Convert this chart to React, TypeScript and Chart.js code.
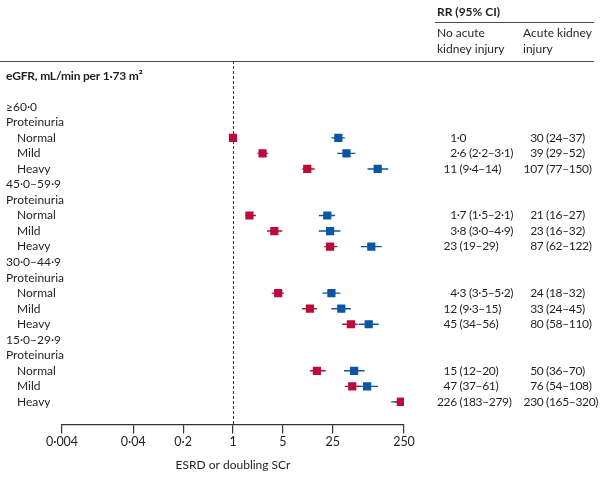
import { useEffect, useRef } from 'react';
import { Chart, registerables } from 'chart.js';

Chart.register(...registerables);

// ---- data ----
const groupLabels = ['≥60·0', '45·0–59·9', '30·0–44·9', '15·0–29·9'];
const levelLabels = ['Normal', 'Mild', 'Heavy'];
const subHeading = 'Proteinuria';
const axisHeading = 'eGFR, mL/min per 1·73 m²';

const noAkiRR = [1.0, 2.6, 11, 1.7, 3.8, 23, 4.3, 12, 45, 15, 47, 226];
const noAkiLo = [null, 2.2, 9.4, 1.5, 3.0, 19, 3.5, 9.3, 34, 12, 37, 183];
const noAkiHi = [null, 3.1, 14, 2.1, 4.9, 29, 5.2, 15, 56, 20, 61, 279];
const akiRR = [30, 39, 107, 21, 23, 87, 24, 33, 80, 50, 76, 230];
const akiLo = [24, 29, 77, 16, 16, 62, 18, 24, 58, 36, 54, 165];
const akiHi = [37, 52, 150, 27, 32, 122, 32, 45, 110, 70, 108, 320];

const noAkiText = ['1·0', '2·6 (2·2–3·1)', '11 (9·4–14)', '1·7 (1·5–2·1)', '3·8 (3·0–4·9)', '23 (19–29)', '4·3 (3·5–5·2)', '12 (9·3–15)', '45 (34–56)', '15 (12–20)', '47 (37–61)', '226 (183–279)'];
const akiText = ['30 (24–37)', '39 (29–52)', '107 (77–150)', '21 (16–27)', '23 (16–32)', '87 (62–122)', '24 (18–32)', '33 (24–45)', '80 (58–110)', '50 (36–70)', '76 (54–108)', '230 (165–320)'];

const tickValues = [0.004, 0.04, 0.2, 1, 5, 25, 250];
const tickLabels = ['0·004', '0·04', '0·2', '1', '5', '25', '250'];
const xTitle = 'ESRD or doubling SCr';

// ---- style ----
const RED = '#BC0A3D';
const BLUE = '#0B55A2';
const TEXT = '#231F20';
const FONT = 'Lato, "Open Sans", sans-serif';
const ROW_MIN = -2.95;
const ROW_MAX = 20.45;

const rowOf = (k: number) => Math.floor(k / 3) * 5 + 2 + (k % 3);

function whiskers(lo: (number | null)[], hi: (number | null)[]) {
  const out: any[] = [];
  lo.forEach((l, k) => {
    const h = hi[k];
    if (l == null || h == null) return;
    const r = rowOf(k);
    out.push({ x: l, y: r }, { x: h, y: r }, { x: null, y: null });
  });
  return out;
}

const points = (vals: number[]) => vals.map((v, k) => ({ x: v, y: rowOf(k) }));

const forestPlugin = {
  id: 'forestText',
  beforeDatasetsDraw(chart: any) {
    const { ctx, chartArea, scales } = chart;
    const px = Math.round(scales.x.getPixelForValue(1)) + 0.5;
    ctx.save();
    ctx.strokeStyle = '#3a3a3a';
    ctx.lineWidth = 1;
    ctx.setLineDash([3, 2]);
    ctx.beginPath();
    ctx.moveTo(px, chartArea.top);
    ctx.lineTo(px, chartArea.bottom);
    ctx.stroke();
    ctx.restore();
  },
  afterDraw(chart: any) {
    const { ctx, scales } = chart;
    const y = scales.y;
    ctx.save();
    // header rules
    ctx.strokeStyle = '#4a4a4a';
    ctx.lineWidth = 1.2;
    ctx.beginPath();
    ctx.moveTo(0, 61.5);
    ctx.lineTo(594, 61.5);
    ctx.moveTo(435, 22.5);
    ctx.lineTo(594, 22.5);
    ctx.stroke();

    ctx.fillStyle = TEXT;
    ctx.textBaseline = 'middle';
    ctx.textAlign = 'left';
    ctx.font = `bold 12px ${FONT}`;
    ctx.fillText('RR (95% CI)', 437, 12);
    ctx.font = `12px ${FONT}`;
    ctx.fillText('No acute', 437, 33);
    ctx.fillText('kidney injury', 437, 49);
    ctx.fillText('Acute kidney', 523, 33);
    ctx.fillText('injury', 523, 49);

    ctx.font = `bold 12px ${FONT}`;
    (ctx as any).letterSpacing = '-0.2px';
    ctx.fillText(axisHeading, 6, y.getPixelForValue(-1.95));
    (ctx as any).letterSpacing = '0px';

    ctx.font = `12px ${FONT}`;
    groupLabels.forEach((g, gi) => {
      ctx.fillText(g, 6, y.getPixelForValue(gi * 5));
      ctx.fillText(subHeading, 6, y.getPixelForValue(gi * 5 + 1));
      levelLabels.forEach((l, li) => {
        ctx.fillText(l, 17, y.getPixelForValue(gi * 5 + 2 + li));
      });
    });

    (ctx as any).letterSpacing = '-0.35px';
    const drawAligned = (txt: string, anchor: number, py: number) => {
      const m = txt.match(/^\d+/);
      const intPart = m ? m[0] : '';
      const w = ctx.measureText(intPart).width;
      ctx.fillText(txt, anchor - w, py);
    };
    noAkiText.forEach((t, k) => drawAligned(t, 456.8, y.getPixelForValue(rowOf(k))));
    akiText.forEach((t, k) => drawAligned(t, 543.4, y.getPixelForValue(rowOf(k))));
    (ctx as any).letterSpacing = '0px';
    ctx.restore();
  },
};

export default function App() {
  const ref = useRef<HTMLCanvasElement>(null);
  useEffect(() => {
    document.body.style.margin = '0';
    const chart = new Chart(ref.current as HTMLCanvasElement, {
      type: 'scatter',
      data: {
        datasets: [
          {
            label: 'No AKI',
            data: points(noAkiRR),
            backgroundColor: RED,
            borderWidth: 0,
            pointStyle: 'rect',
            pointRadius: 5.8,
            order: 0,
          },
          {
            label: 'No AKI CI',
            data: whiskers(noAkiLo, noAkiHi),
            showLine: true,
            spanGaps: false,
            borderColor: RED,
            borderWidth: 1.4,
            pointRadius: 0,
            order: 1,
          },
          {
            label: 'AKI',
            data: points(akiRR),
            backgroundColor: BLUE,
            borderWidth: 0,
            pointStyle: 'rect',
            pointRadius: 5.8,
            order: 2,
          },
          {
            label: 'AKI CI',
            data: whiskers(akiLo, akiHi),
            showLine: true,
            spanGaps: false,
            borderColor: BLUE,
            borderWidth: 1.4,
            pointRadius: 0,
            order: 3,
          },
        ] as any,
      },
      options: {
        animation: false,
        responsive: false,
        devicePixelRatio: 1,
        events: [],
        layout: { padding: { left: 62, right: 198, top: 61, bottom: 2.2 } },
        plugins: { legend: { display: false }, tooltip: { enabled: false } },
        scales: {
          x: {
            type: 'logarithmic',
            min: 0.004,
            max: 250,
            bounds: 'data',
            afterBuildTicks: (scale: any) => {
              scale.ticks = tickValues.map((v) => ({ value: v }));
            },
            ticks: {
              autoSkip: false,
              maxRotation: 0,
              padding: 1,
              color: TEXT,
              font: { family: FONT, size: 12.5 },
              callback: (_v: any, i: number) => tickLabels[i],
            },
            grid: { drawOnChartArea: false, drawTicks: true, tickLength: 9, color: '#333', lineWidth: 1.2 },
            border: { display: true, color: '#333', width: 1.2 },
            title: {
              display: true,
              text: xTitle,
              color: TEXT,
              font: { family: FONT, size: 12 },
              padding: { top: 8, bottom: 2 },
            },
          },
          y: {
            type: 'linear',
            display: false,
            reverse: true,
            min: ROW_MIN,
            max: ROW_MAX,
            bounds: 'data',
          },
        },
      } as any,
      plugins: [forestPlugin],
    });
    return () => chart.destroy();
  }, []);
  return (
    <div style={{ position: 'fixed', left: 0, top: 0, width: 602, height: 477, background: '#fff' }}>
      <canvas ref={ref} width={602} height={477} style={{ display: 'block' }} />
    </div>
  );
}
